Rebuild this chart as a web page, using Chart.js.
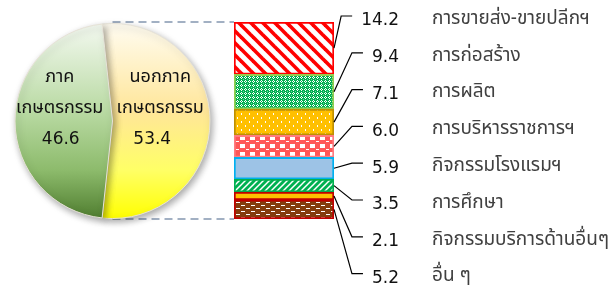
<!DOCTYPE html>
<html>
<head>
<meta charset="utf-8">
<script src="https://cdn.jsdelivr.net/npm/chart.js@4"></script>
<style>
  body { margin: 0; background: #fff; }
  #wrap { position: relative; width: 611px; height: 291px; }
  #wrap canvas { position: absolute; left: 0; top: 0; }
</style>
</head>
<body>
<div id="wrap">
  <canvas id="barChart" width="611" height="291"></canvas>
  <canvas id="pieChart" width="611" height="291"></canvas>
</div>
<script>
// ข้อมูลวงกลม (ร้อยละ)
const pieLabels = [["นอกภาค", "เกษตรกรรม"], ["ภาค", "เกษตรกรรม"]];
const pieValues = [53.4, 46.6];

// ข้อมูลแท่ง (นอกภาคเกษตรกรรม) เรียงจากบนลงล่าง
const barLabels = ["การขายส่ง-ขายปลีกฯ", "การก่อสร้าง", "การผลิต", "การบริหารราชการฯ",
  "กิจกรรมโรงแรมฯ", "การศึกษา", "กิจกรรมบริการด้านอื่นๆ", "อื่น ๆ"];
const barValues = [14.2, 9.4, 7.1, 6.0, 5.9, 3.5, 2.1, 5.2];

const FONT = "Tahoma, 'Noto Sans Thai', 'Noto Sans', 'DejaVu Sans', sans-serif";
const NUMFONT = "'DejaVu Sans', Verdana, sans-serif";

// ---------- ลวดลาย ----------
function makePattern(w, h, draw) {
  const c = document.createElement("canvas");
  c.width = w; c.height = h;
  const g = c.getContext("2d");
  draw(g, w, h);
  return g.createPattern(c, "repeat");
}

const redStripes = makePattern(12, 12, (g, w, h) => {
  g.fillStyle = "#fff"; g.fillRect(0, 0, w, h);
  g.strokeStyle = "#ff0000"; g.lineWidth = 3.6;
  for (const o of [-12, 0, 12]) {
    g.beginPath(); g.moveTo(o - 2, -2); g.lineTo(o + 14, 14); g.stroke();
  }
});
const greenDots = makePattern(4, 4, (g) => {
  g.fillStyle = "#00b050"; g.fillRect(0, 0, 4, 4);
  g.fillStyle = "#ffffff";
  g.fillRect(1, 0, 1, 1); g.fillRect(0, 1, 1, 1); g.fillRect(2, 1, 1, 1); g.fillRect(1, 2, 1, 1);
  g.fillStyle = "rgba(255,255,255,0.45)"; g.fillRect(3, 3, 1, 1);
});
const goldDots = makePattern(8, 8, (g) => {
  g.fillStyle = "#ffc000"; g.fillRect(0, 0, 8, 8);
  g.fillStyle = "#fff"; g.fillRect(1, 1, 1, 2); g.fillRect(5, 5, 1, 2);
});
const salmonCheck = makePattern(10, 8, (g) => {
  g.fillStyle = "#ff5757"; g.fillRect(0, 0, 10, 8);
  g.fillStyle = "#fff"; g.fillRect(0, 0, 5, 4); g.fillRect(6, 5, 3, 1);
});
const greenStripes = makePattern(6, 6, (g) => {
  g.fillStyle = "#00b050"; g.fillRect(0, 0, 6, 6);
  g.strokeStyle = "#fff"; g.lineWidth = 1.5;
  for (const o of [-6, 0, 6]) {
    g.beginPath(); g.moveTo(o - 1, 7); g.lineTo(o + 7, -1); g.stroke();
  }
});
const brownDash = makePattern(10, 6, (g) => {
  g.fillStyle = "#843c0c"; g.fillRect(0, 0, 10, 6);
  g.fillStyle = "#fff"; g.fillRect(1, 1, 4, 1); g.fillRect(6, 4, 4, 1);
});

const barFills = [redStripes, greenDots, goldDots, salmonCheck, "#9dc3e6", greenStripes, "#ffc000", brownDash];
const barBorders = ["#ff0000", "#92d050", "#bf9000", "#ff7c80", "#00b0f0", "#00b050", "#c00000", "#c00000"];

// ---------- วงกลม ----------
function pieFill(ctx) {
  const chart = ctx.chart;
  const a = chart.chartArea;
  if (!a) return "#ccc";
  const g = chart.ctx.createLinearGradient(0, a.top, 0, a.bottom);
  if (ctx.dataIndex === 0) {
    g.addColorStop(0, "#fffcf2");
    g.addColorStop(0.45, "#ffe699");
    g.addColorStop(0.75, "#ffff66");
    g.addColorStop(1, "#ffff00");
  } else {
    g.addColorStop(0, "#f4f9f1");
    g.addColorStop(0.45, "#b9daa3");
    g.addColorStop(0.75, "#8dbb6c");
    g.addColorStop(1, "#4f7d2f");
  }
  return g;
}

const pieTotal = pieValues.reduce((s, v) => s + v, 0);

const pieDecor = {
  id: "pieDecor",
  beforeDatasetsDraw(chart) {
    const c = chart.ctx;
    c.save();
    c.shadowColor = "rgba(0,0,0,0.35)";
    c.shadowBlur = 7;
    c.shadowOffsetX = 2;
    c.shadowOffsetY = 3;
  },
  afterDatasetsDraw(chart) {
    const c = chart.ctx;
    c.restore();
    const arcs = chart.getDatasetMeta(0).data;
    c.save();
    c.fillStyle = "#111";
    c.textAlign = "center";
    c.textBaseline = "middle";
    arcs.forEach((arc, i) => {
      const p = arc.tooltipPosition();
      const dx = i === 0 ? -1 : -4;
      c.font = "18px " + FONT;
      pieLabels[i].forEach((t, k) => c.fillText(t, p.x + dx, p.y - 43 + k * 31));
      c.font = "17px " + NUMFONT;
      c.fillText(pieValues[i].toFixed(1), p.x + dx - (i === 0 ? 8 : -1), p.y + 19);
    });
    c.restore();
  }
};

const pieChart = new Chart(document.getElementById("pieChart"), {
  type: "pie",
  data: {
    labels: pieLabels.map(l => l.join("")),
    datasets: [{
      data: pieValues,
      backgroundColor: pieFill,
      borderColor: "#e6e2d6",
      borderWidth: 1
    }]
  },
  options: {
    responsive: false,
    animation: false,
    devicePixelRatio: 1,
    rotation: 90 - pieValues[0] / pieTotal * 180,
    layout: { padding: { left: 14, right: 400, top: 23, bottom: 72 } },
    plugins: { legend: { display: false }, tooltip: { enabled: false } }
  },
  plugins: [pieDecor]
});

// ---------- แท่งซ้อน ----------
const labelTop = 21;
const labelStep = 36.8;
const numRight = 399;
const nameLeft = 432;

const barDecor = {
  id: "barDecor",
  beforeDatasetsDraw(chart) {
    // เส้นประเชื่อมวงกลมกับแท่ง
    const a = chart.chartArea;
    const cx = pieChart.getDatasetMeta(0).data[0].x;
    const c = chart.ctx;
    c.save();
    c.strokeStyle = "#8497b0";
    c.lineWidth = 1.5;
    c.setLineDash([8, 5]);
    [a.top, a.bottom].forEach(y => {
      c.beginPath(); c.moveTo(cx, y); c.lineTo(a.left, y); c.stroke();
    });
    c.restore();
  },
  afterDatasetsDraw(chart) {
    const c = chart.ctx;
    const n = barValues.length;
    c.save();
    for (let i = 0; i < n; i++) {
      const bar = chart.getDatasetMeta(n - 1 - i).data[0];
      const midY = (bar.y + bar.base) / 2;
      const right = bar.x + bar.width / 2;
      const ly = labelTop + i * labelStep;
      const txt = barValues[i].toFixed(1);
      c.font = "17px " + NUMFONT;
      const w = c.measureText(txt).width;
      const stubEnd = numRight - w - 9;
      const elbow = stubEnd - 11;
      // เส้นชี้
      c.strokeStyle = "#000";
      c.lineWidth = 1.2;
      c.beginPath();
      c.moveTo(right, midY);
      c.lineTo(elbow, ly - 5);
      c.lineTo(stubEnd, ly - 5);
      c.stroke();
      // ตัวเลข
      c.fillStyle = "#111";
      c.textAlign = "right";
      c.textBaseline = "middle";
      c.fillText(txt, numRight, ly);
      // ชื่อสาขา
      c.font = "19px " + FONT;
      c.fillStyle = "#404040";
      c.textAlign = "left";
      c.fillText(barLabels[i], nameLeft, ly - 1);
    }
    c.restore();
  }
};

const barChart = new Chart(document.getElementById("barChart"), {
  type: "bar",
  data: {
    labels: [""],
    datasets: barValues.map((v, i) => ({
      label: barLabels[i],
      data: [v],
      backgroundColor: barFills[i],
      borderColor: barBorders[i],
      borderWidth: 2,
      borderSkipped: false,
      barPercentage: 1,
      categoryPercentage: 1
    })).reverse()
  },
  options: {
    responsive: false,
    animation: false,
    devicePixelRatio: 1,
    layout: { padding: { left: 234, right: 277, top: 22, bottom: 72 } },
    plugins: { legend: { display: false }, tooltip: { enabled: false } },
    scales: {
      x: { stacked: true, display: false },
      y: { stacked: true, display: false, min: 0, max: barValues.reduce((s, v) => s + v, 0) }
    }
  },
  plugins: [barDecor]
});
</script>
</body>
</html>
